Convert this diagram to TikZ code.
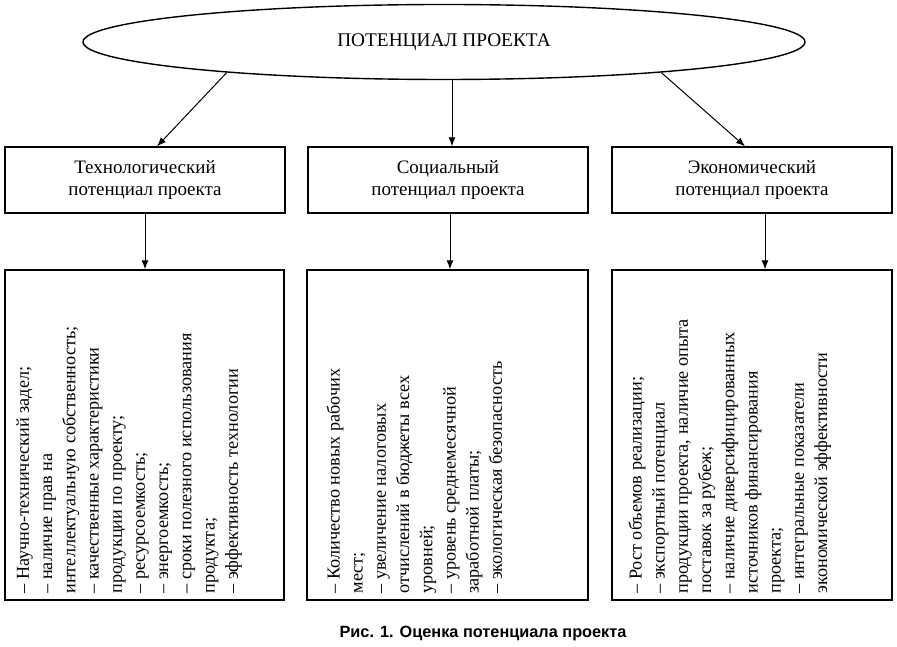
\documentclass[tikz,border=0pt]{standalone}
\usepackage{fontspec}
\setmainfont{Liberation Serif}
\newfontfamily\capfont{Liberation Sans}
\usetikzlibrary{shapes.geometric,arrows.meta,calc}
\begin{document}
\begin{tikzpicture}[x=1pt,y=1pt,
 box/.style={draw,line width=1.4pt,minimum width=280pt,minimum height=66pt,inner sep=0pt},
 head/.style={align=center,font=\fontsize{19}{22}\selectfont},
 list/.style={rotate=90,anchor=north west,align=left,inner sep=0pt,font=\fontsize{18.2}{23.2}\selectfont},
 arr/.style={-{Latex[length=9pt,width=7pt]},line width=1pt}]
\useasboundingbox (0,0) rectangle (897,646);
\node[ellipse,draw,line width=1.4pt,minimum width=722pt,minimum height=75pt,inner sep=0pt,font=\fontsize{19.3}{22}\selectfont] (top) at (444,604) {ПОТЕНЦИАЛ ПРОЕКТА};

\node[box,head] (t1) at (145,466) {Технологический\\потенциал проекта};
\node[box,head] (t2) at (448,466) {Социальный\\потенциал проекта};
\node[box,head] (t3) at (752,466) {Экономический\\потенциал проекта};

\node[box,minimum width=279pt,minimum height=330pt] (b1) at (144.5,211) {};
\node[box,minimum width=281pt,minimum height=330pt] (b2) at (447.5,211) {};
\node[box,minimum width=280pt,minimum height=330pt] (b3) at (752,211) {};

\node[list] (l1) at ($(b1.south west)+(12,7)$) {– Научно-технический задел;\\– наличие прав на\\интеллектуальную собственность;\\– качественные характеристики\\продукции по проекту;\\– ресурсоемкость;\\– энергоемкость;\\– сроки полезного использования\\продукта;\\– эффективность технологии};
\node[list] (l2) at ($(b2.south west)+(20,7)$) {– Количество новых рабочих\\мест;\\– увеличение налоговых\\отчислений в бюджеты всех\\уровней;\\– уровень среднемесячной\\заработной платы;\\– экологическая безопасность};
\node[list] (l3) at ($(b3.south west)+(17,7)$) {– Рост объемов реализации;\\– экспортный потенциал\\продукции проекта, наличие опыта\\поставок за рубеж;\\– наличие диверсифицированных\\источников финансирования\\проекта;\\– интегральные показатели\\экономической эффективности};

\draw[arr] (top.188) -- ($(t1.north west)!0.543!(t1.north east)$);
\coordinate (m0) at ($(top.south)+(8,0)$);
\draw[arr] (m0) -- (m0 |- t2.north);
\draw[arr] (top.-8) -- ($(t3.north west)!0.475!(t3.north east)$);

\draw[arr] (t1.south) -- (t1.south |- b1.north);
\coordinate (s2) at ($(t2.south)+(2,0)$);
\draw[arr] (s2) -- (s2 |- b2.north);
\coordinate (s3) at ($(t3.south)+(13,0)$);
\draw[arr] (s3) -- (s3 |- b3.north);

\node[font=\capfont\bfseries\fontsize{16.3}{18}\selectfont] (cap) at (483,13) {Рис. 1. Оценка потенциала проекта};
\end{tikzpicture}
\end{document}
